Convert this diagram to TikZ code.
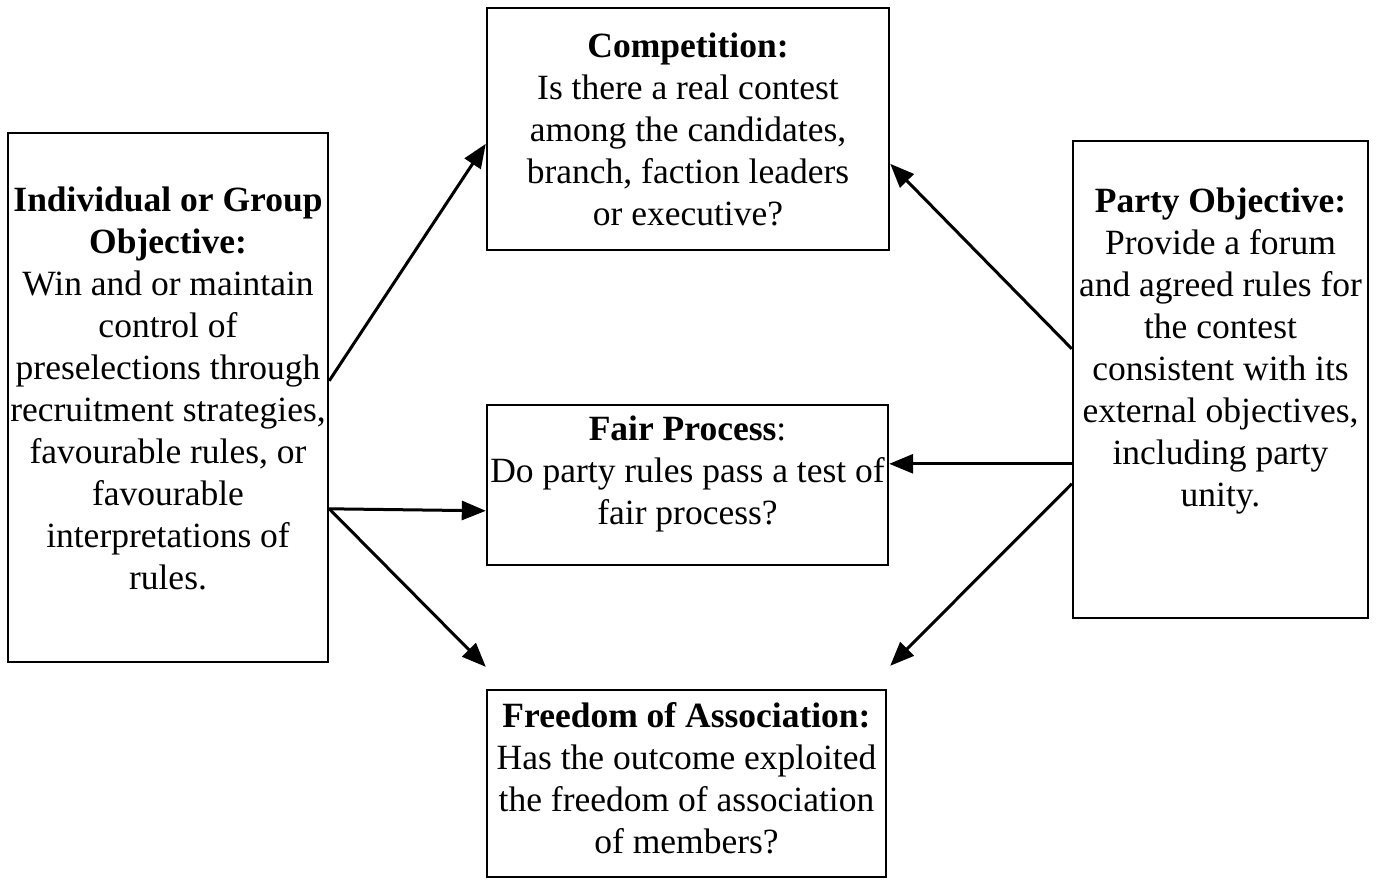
\documentclass[tikz,border=0pt]{standalone}
\usepackage{fontspec}
\setmainfont{Liberation Serif}
\usetikzlibrary{arrows.meta}
\begin{document}
\begin{tikzpicture}[x=1pt,y=-1pt,
  box/.style={draw=black,line width=2.4pt,minimum width=#1,inner sep=0pt,rectangle},
  txt/.style={font=\fontsize{35.5}{42}\selectfont,align=center,inner sep=0pt},
  arr/.style={line width=3pt,-{Triangle[length=24pt,width=19pt]}}]
\useasboundingbox (0,0) rectangle (1377,879);
% boxes
\node[box=402pt,minimum height=242pt] (C) at (688,129) {};
\node[box=320pt,minimum height=529pt] (L) at (168,397.5) {};
\node[box=401pt,minimum height=160pt] (F) at (687.5,485) {};
\node[box=295pt,minimum height=477pt] (R) at (1220.5,379.5) {};
\node[box=399pt,minimum height=187pt] (A) at (686.5,783.5) {};
% texts
\node[txt] (Ct) at (688,129.5) {\textbf{Competition:}\\Is there a real contest\\among the candidates,\\branch, faction leaders\\or executive?};
\node[txt] (Lt) at (168,388.5) {\textbf{Individual or Group}\\\textbf{Objective:}\\Win and or maintain\\control of\\preselections through\\recruitment strategies,\\favourable rules, or\\favourable\\interpretations of\\rules.};
\node[txt] (Ft) at (687.5,473.5) {\textbf{Fair Process}:\\Do party rules pass a test of\\fair process?};
\node[txt] (At) at (686.5,778) {\textbf{Freedom of Association:}\\Has the outcome exploited\\the freedom of association\\of members?};
\node[txt] (Rt) at (1220.5,351) {\textbf{Party Objective:}\\Provide a forum\\and agreed rules for\\the contest\\consistent with its\\external objectives,\\including party\\unity.};
% arrows
\draw[arr] ([yshift=-249pt]L.north east) -- ([yshift=-137pt]C.north west);
\draw[arr] ([yshift=-377pt]L.north east) -- ([yshift=-107pt]F.north west);
\draw[arr] ([yshift=-377pt]L.north east) -- ([yshift=22pt]A.north west);
\draw[arr] ([yshift=-209pt]R.north west) -- ([yshift=-157pt]C.north east);
\draw[arr] ([yshift=-324pt]R.north west) -- ([yshift=-60pt]F.north east);
\draw[arr] ([yshift=-344pt]R.north west) -- ([xshift=3pt,yshift=23pt]A.north east);
\end{tikzpicture}
\end{document}
